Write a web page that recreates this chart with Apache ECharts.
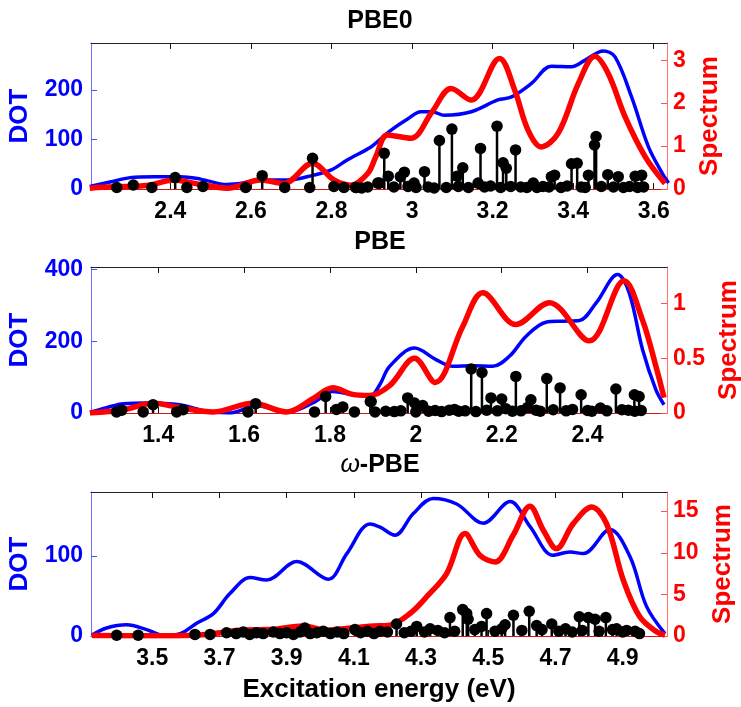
<!DOCTYPE html>
<html>
<head>
<meta charset="utf-8">
<script src="https://cdn.jsdelivr.net/npm/echarts@6/dist/echarts.min.js"></script>
<style>
  html, body { margin: 0; padding: 0; background: #ffffff; }
  #chart { width: 741px; height: 707px; }
</style>
</head>
<body>
<div id="chart"></div>
<script>
// ---- PBE0 ----
const pbe0Dot = [[2.200,5],[2.25,14],[2.30,23],[2.36,25],[2.425,25],[2.475,20],[2.541,9],[2.58,12],[2.616,18],[2.69,18],[2.756,28],[2.798,38],[2.84,59],[2.898,85],[2.923,102],[2.948,119],[2.99,142],[3.022,156],[3.05,156],[3.08,149],[3.147,156],[3.213,180],[3.247,186],[3.296,213],[3.346,248],[3.396,247],[3.429,260],[3.475,279],[3.504,267],[3.545,186],[3.587,85],[3.621,32],[3.637,12]];
const pbe0Spectrum = [[2.200,0.02],[2.258,0.05],[2.342,0.08],[2.408,0.21],[2.466,0.12],[2.541,0.02],[2.624,0.21],[2.682,0.13],[2.753,0.60],[2.806,0.21],[2.848,0.09],[2.89,0.36],[2.91,0.75],[2.939,1.26],[2.997,1.18],[3.05,1.8],[3.097,2.34],[3.147,2.07],[3.217,3.04],[3.255,2.30],[3.288,1.37],[3.321,0.98],[3.363,1.30],[3.413,2.46],[3.454,3.09],[3.487,2.69],[3.529,1.68],[3.579,0.75],[3.628,0.13]];
const pbe0Stems = [[2.267,3],[2.308,8],[2.354,3],[2.412,23],[2.441,3],[2.481,5],[2.587,3],[2.628,27],[2.684,3],[2.746,3],[2.753,62],[2.806,5],[2.831,3],[2.861,3],[2.890,4],[2.915,12],[2.919,12],[2.931,72],[2.941,26],[2.971,25],[2.981,34],[3.005,12],[3.031,35],[3.068,98],[3.099,121],[3.112,26],[3.126,43],[3.164,12],[3.170,82],[3.211,127],[3.226,53],[3.234,42],[3.257,79],[3.301,12],[3.346,25],[3.354,28],[3.396,51],[3.410,52],[3.438,28],[3.453,89],[3.457,106],[3.486,29],[3.512,25],[3.554,26],[3.570,28],
  [2.86,3],[2.875,2],[2.955,4],[2.99,5],[3.01,3],[3.04,4],[3.055,2],[3.085,3],[3.115,5],[3.14,3],[3.18,4],[3.195,6],[3.22,3],[3.245,5],[3.27,4],[3.285,3],[3.31,3],[3.325,5],[3.34,4],[3.37,3],[3.385,6],[3.42,4],[3.43,3],[3.47,5],[3.50,4],[3.525,3],[3.54,5],[3.56,3],[3.575,4]];
const pbe0XTicks = [2.4, 2.6, 2.8, 3, 3.2, 3.4, 3.6];
const pbe0DotTicks = [0, 100, 200];
const pbe0SpecTicks = [0, 1, 2, 3];

// ---- PBE ----
const pbeDot = [[1.241,2],[1.28,15],[1.319,26],[1.373,28],[1.45,23],[1.513,5],[1.567,0],[1.629,20],[1.699,2],[1.76,28],[1.807,60],[1.853,51],[1.892,46],[1.916,79],[1.939,130],[1.997,181],[2.047,149],[2.086,130],[2.133,132],[2.179,130],[2.218,158],[2.257,214],[2.303,253],[2.342,256],[2.381,258],[2.42,307],[2.47,386],[2.497,335],[2.528,177],[2.559,65],[2.578,23]];
const pbeSpectrum = [[1.241,0],[1.319,0.03],[1.388,0.09],[1.45,0.05],[1.528,0.01],[1.621,0.09],[1.699,0.01],[1.76,0.13],[1.807,0.23],[1.853,0.17],[1.892,0.16],[1.939,0.25],[1.997,0.50],[2.045,0.28],[2.109,0.79],[2.156,1.10],[2.233,0.81],[2.311,1.01],[2.404,0.66],[2.485,1.21],[2.528,0.85],[2.559,0.43],[2.578,0.14]];
const pbeStems = [[1.303,3],[1.315,8],[1.365,3],[1.388,23],[1.443,3],[1.458,9],[1.609,3],[1.627,26],[1.764,3],[1.790,46],[1.815,10],[1.830,17],[1.857,3],[1.894,32],[1.896,32],[1.981,42],[1.997,28],[2.016,21],[2.078,8],[2.129,123],[2.154,113],[2.175,42],[2.200,39],[2.233,102],[2.268,37],[2.305,96],[2.336,70],[2.385,51],[2.466,67],[2.509,51],[2.520,46],
  [1.905,3],[1.93,5],[1.95,4],[1.965,6],[2.0,3],[2.03,5],[2.045,7],[2.06,4],[2.09,10],[2.1,5],[2.115,6],[2.14,4],[2.165,8],[2.19,6],[2.21,12],[2.225,5],[2.245,6],[2.26,15],[2.28,8],[2.29,5],[2.32,9],[2.35,6],[2.365,10],[2.4,7],[2.41,5],[2.43,14],[2.445,6],[2.48,9],[2.495,8],[2.51,5],[2.525,7]];
const pbeXTicks = [1.4, 1.6, 1.8, 2, 2.2, 2.4];
const pbeDotTicks = [0, 200, 400];
const pbeSpecTicks = [0, 0.5, 1];

// ---- ω-PBE ----
const wpbeDot = [[3.32,1],[3.364,10],[3.424,14],[3.483,8],[3.533,1],[3.583,3],[3.632,16],[3.682,28],[3.731,53],[3.791,73],[3.84,70],[3.93,93],[4.024,71],[4.079,103],[4.148,140],[4.178,136],[4.222,126],[4.277,153],[4.336,172],[4.406,165],[4.485,141],[4.565,168],[4.624,137],[4.693,101],[4.743,105],[4.783,103],[4.862,133],[4.922,99],[4.971,37],[5.026,3]];
const wpbeSpectrum = [[3.32,0.05],[3.5,0.02],[3.65,0.15],[3.761,0.7],[3.86,0.8],[3.949,1.2],[4.019,0.7],[4.098,1.0],[4.16,1.2],[4.207,1.3],[4.267,2.7],[4.321,4.9],[4.376,7.5],[4.431,12.3],[4.475,9.7],[4.52,8.9],[4.574,12.1],[4.624,15.6],[4.664,12.7],[4.703,10.5],[4.753,13.5],[4.808,15.5],[4.852,13.5],[4.902,6.7],[4.951,2.3],[5.001,0.5],[5.026,0.1]];
const wpbeStems = [[3.394,1],[3.458,1],[3.627,2],[3.672,2],[3.721,4],[3.771,5],[3.954,10],[4.009,6],[4.103,8],[4.178,6],[4.227,15],[4.287,12],[4.327,9],[4.386,23],[4.424,33],[4.436,28],[4.44,21],[4.480,12],[4.495,28],[4.550,14],[4.575,26],[4.622,31],[4.644,13],[4.689,15],[4.771,24],[4.798,23],[4.818,21],[4.850,23],[4.882,9],[4.912,7],[4.937,6],
  [3.75,3],[3.79,2],[3.81,4],[3.83,3],[3.86,5],[3.88,3],[3.9,4],[3.92,2],[3.94,5],[3.97,3],[3.99,4],[4.03,3],[4.05,5],[4.07,3],[4.12,4],[4.14,6],[4.16,3],[4.2,5],[4.25,4],[4.27,6],[4.31,5],[4.35,7],[4.37,4],[4.4,6],[4.46,8],[4.52,6],[4.54,9],[4.6,7],[4.66,8],[4.71,6],[4.73,9],[4.75,5],[4.78,7],[4.83,6],[4.87,8],[4.9,5],[4.95,3]];
const wpbeXTicks = [3.5, 3.7, 3.9, 4.1, 4.3, 4.5, 4.7, 4.9];
const wpbeDotTicks = [0, 100];
const wpbeSpecTicks = [0, 5, 10, 15];

const FONT = '"Liberation Sans", Arial, sans-serif';
const BLUE = '#0000ff';
const RED = '#ff0000';
const TICK_SIZE = 23;
const NAME_SIZE = 26;

const panels = [
  { top: 43, height: 146, x: [2.203, 3.633], dotMax: 295, specMax: 3.4, specGap: 30,
    dot: pbe0Dot, spec: pbe0Spectrum, stems: pbe0Stems, xt: pbe0XTicks, dt: pbe0DotTicks, st: pbe0SpecTicks },
  { top: 267, height: 146, x: [1.2435, 2.585], dotMax: 407, specMax: 1.336, specGap: 49,
    dot: pbeDot, spec: pbeSpectrum, stems: pbeStems, xt: pbeXTicks, dt: pbeDotTicks, st: pbeSpecTicks },
  { top: 492, height: 144, x: [3.3176, 5.032], dotMax: 180, specMax: 17.3, specGap: 30,
    dot: wpbeDot, spec: wpbeSpectrum, stems: wpbeStems, xt: wpbeXTicks, dt: wpbeDotTicks, st: wpbeSpecTicks }
];

const grid = [], xAxis = [], yAxis = [], series = [];

panels.forEach((p, i) => {
  grid.push({ left: 91, width: 576, top: p.top, height: p.height, containLabel: false, outerBoundsMode: 'none' });

  // bottom axis with labels
  xAxis.push({
    type: 'value', gridIndex: i, position: 'bottom', min: p.x[0], max: p.x[1],
    axisLine: { show: true, onZero: false, lineStyle: { color: '#d01818', width: 1 } },
    axisTick: { show: true, inside: true, length: 6, customValues: p.xt, lineStyle: { color: '#111', width: 1 } },
    axisLabel: { show: true, customValues: p.xt, margin: 11, color: '#000',
      fontFamily: FONT, fontWeight: 'bold', fontSize: TICK_SIZE },
    splitLine: { show: false }
  });
  // top frame axis
  xAxis.push({
    type: 'value', gridIndex: i, position: 'top', min: p.x[0], max: p.x[1],
    axisLine: { show: true, onZero: false, lineStyle: { color: '#222', width: 1 } },
    axisTick: { show: true, inside: true, length: 6, customValues: p.xt, lineStyle: { color: '#111', width: 1 } },
    axisLabel: { show: false },
    splitLine: { show: false }
  });

  yAxis.push({
    type: 'value', gridIndex: i, position: 'left', min: 0, max: p.dotMax,
    name: 'DOT', nameLocation: 'middle', nameGap: 58, nameRotate: 90,
    nameTextStyle: { color: BLUE, fontFamily: FONT, fontWeight: 'bold', fontSize: NAME_SIZE },
    axisLine: { show: true, onZero: false, lineStyle: { color: '#7070ff', width: 1 } },
    axisTick: { show: true, inside: true, length: 6, customValues: p.dt, lineStyle: { color: '#5050ff', width: 1 } },
    axisLabel: { show: true, customValues: p.dt, margin: 8, color: BLUE,
      fontFamily: FONT, fontWeight: 'bold', fontSize: TICK_SIZE },
    splitLine: { show: false }
  });
  yAxis.push({
    type: 'value', gridIndex: i, position: 'right', min: 0, max: p.specMax,
    name: 'Spectrum', nameLocation: 'middle', nameGap: p.specGap, nameRotate: 90,
    nameTextStyle: { color: RED, fontFamily: FONT, fontWeight: 'bold', fontSize: NAME_SIZE },
    axisLine: { show: true, onZero: false, lineStyle: { color: '#ff7070', width: 1 } },
    axisTick: { show: true, inside: true, length: 6, customValues: p.st, lineStyle: { color: '#ff5050', width: 1 } },
    axisLabel: { show: true, customValues: p.st, margin: 6, color: RED,
      fontFamily: FONT, fontWeight: 'bold', fontSize: TICK_SIZE },
    splitLine: { show: false }
  });

  const xi = i * 2, yl = i * 2, yr = i * 2 + 1;
  series.push({
    type: 'line', xAxisIndex: xi, yAxisIndex: yl, data: p.dot, smooth: 0.35,
    showSymbol: false, lineStyle: { color: BLUE, width: 3.5 }, z: 2, silent: true
  });
  series.push({
    type: 'line', xAxisIndex: xi, yAxisIndex: yr, data: p.spec, smooth: 0.35,
    showSymbol: false, lineStyle: { color: RED, width: 5.5 }, z: 3, silent: true
  });
  series.push({
    type: 'bar', xAxisIndex: xi, yAxisIndex: yl, data: p.stems, barWidth: 2.5,
    itemStyle: { color: '#000' }, z: 4, silent: true
  });
  series.push({
    type: 'scatter', xAxisIndex: xi, yAxisIndex: yl, data: p.stems, symbol: 'circle',
    symbolSize: 11.5, itemStyle: { color: '#000', opacity: 1 }, z: 5, silent: true
  });
});

const titleStyle = { fill: '#000', font: 'bold 25px ' + FONT, textAlign: 'center', textVerticalAlign: 'middle' };

const chart = echarts.init(document.getElementById('chart'), null, { renderer: 'canvas' });
chart.setOption({
  animation: false,
  backgroundColor: '#ffffff',
  grid, xAxis, yAxis, series,
  graphic: [
    { type: 'text', x: 380, y: 21, style: Object.assign({ text: 'PBE0' }, titleStyle) },
    { type: 'text', x: 380, y: 242, style: Object.assign({ text: 'PBE' }, titleStyle) },
    { type: 'text', x: 380, y: 465, style: {
        text: '{w|ω}-PBE', textAlign: 'center', textVerticalAlign: 'middle',
        fill: '#000', font: 'bold 25px ' + FONT,
        rich: { w: { fontFamily: FONT, fontStyle: 'italic', fontWeight: 'normal', fontSize: 25, fill: '#000' } }
      } },
    { type: 'text', x: 379, y: 690, style: { text: 'Excitation energy (eV)', fill: '#000',
        font: 'bold 26px ' + FONT, textAlign: 'center', textVerticalAlign: 'middle' } }
  ]
});
</script>
</body>
</html>
